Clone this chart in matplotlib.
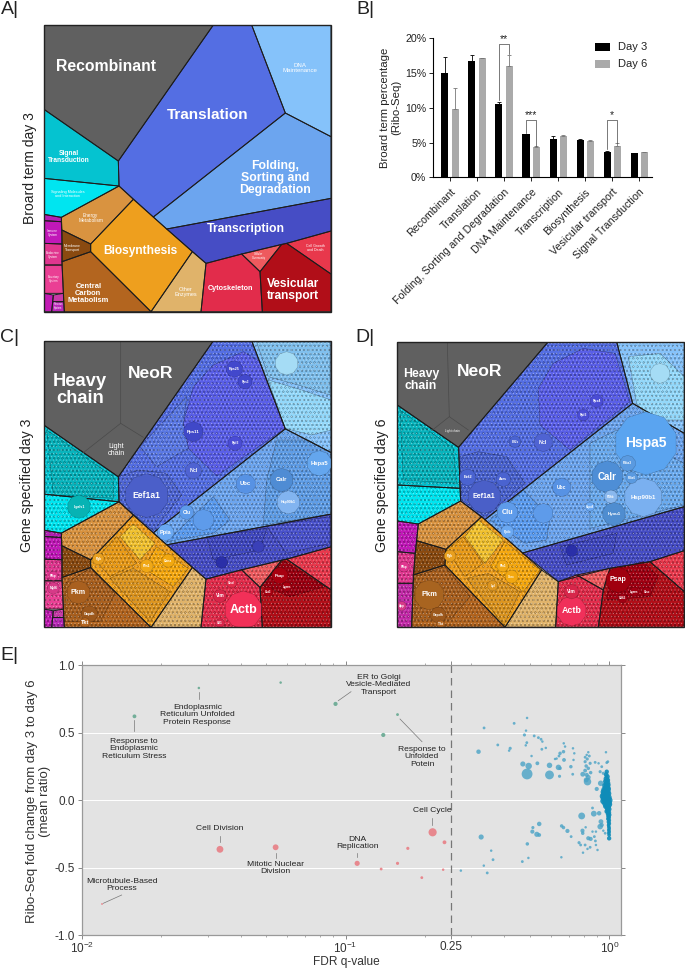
import matplotlib
matplotlib.use('Agg')
import matplotlib.pyplot as plt
from matplotlib.patches import Polygon, RegularPolygon

plt.rcParams['font.family'] = ['Liberation Sans', 'DejaVu Sans']
plt.rcParams['mathtext.default'] = 'regular'
plt.rcParams['hatch.linewidth'] = 0.25

W, H = 685, 969

# B: broad term percentages
terms = ['Recombinant', 'Translation', 'Folding, Sorting and Degradation', 'DNA Maintenance',
         'Transcription', 'Biosynthesis', 'Vesicular transport', 'Signal Transduction']
day3 = [15.0, 16.7, 10.5, 6.2, 5.5, 5.3, 3.7, 3.5]
day3_err = [2.3, 0.9, 0.4, 0.1, 0.4, 0.15, 0.1, 0.05]
day6 = [9.8, 17.1, 16.0, 4.3, 6.0, 5.25, 4.5, 3.6]
day6_err = [3.1, 0.1, 1.6, 0.15, 0.1, 0.05, 0.4, 0.05]

# proteomap term regions, day 3 layout (A and C)
regions_day3 = {
    'Recombinant': ([(132, 75), (640, 75), (355, 483), (132, 328)], '#606060'),
    'Translation': ([(640, 75), (755, 75), (856, 339), (460, 651), (357, 558), (355, 483)], '#546ee3'),
    'DNA Maintenance': ([(755, 75), (993, 75), (993, 410), (856, 339)], '#85c2fa'),
    'Folding': ([(856, 339), (993, 410), (993, 595), (500, 687), (460, 651)], '#6ca5ef'),
    'Transcription': ([(500, 687), (993, 595), (993, 693), (860, 730), (725, 762), (618, 790)], '#464dc5'),
    'Cell Growth': ([(860, 730), (993, 693), (993, 822)], '#e8384c'),
    'Cellular Community': ([(725, 762), (845, 733), (780, 815)], '#ee5a5e'),
    'Vesicular': ([(845, 733), (860, 730), (993, 822), (993, 935), (787, 935), (780, 815)], '#b10e18'),
    'Cytoskeleton': ([(618, 790), (725, 762), (780, 815), (787, 935), (603, 935)], '#e22c4b'),
    'Other Enzymes': ([(577, 755), (618, 790), (603, 935), (453, 935)], '#e0b36a'),
    'Biosynthesis': ([(400, 598), (577, 755), (453, 935), (272, 755), (272, 732)], '#ee9f1e'),
    'Energy': ([(357, 558), (400, 598), (272, 732), (186, 690), (184, 652)], '#d99340'),
    'Membrane': ([(186, 690), (272, 732), (272, 755), (186, 785)], '#8a4a10'),
    'Central Carbon': ([(186, 785), (272, 755), (453, 935), (193, 935)], '#b3651f'),
    'Signal': ([(132, 328), (355, 483), (357, 558), (132, 535)], '#05c3d0'),
    'Signaling': ([(132, 535), (357, 558), (184, 652), (132, 643)], '#00e5f0'),
    'Purple1': ([(132, 643), (184, 652), (184, 665), (132, 662)], '#b31fb5'),
    'Immune': ([(132, 662), (184, 665), (186, 732), (132, 730)], '#c118b8'),
    'Endocrine': ([(132, 730), (186, 732), (186, 795), (132, 795)], '#e0368f'),
    'Excretory': ([(132, 795), (186, 795), (190, 880), (132, 880)], '#ea3f94'),
    'Purple2': ([(132, 880), (160, 885), (155, 935), (132, 935)], '#c21bb4'),
    'Purple3': ([(160, 885), (190, 880), (191, 905), (158, 905)], '#c93aa8'),
    'Purple4': ([(158, 905), (191, 905), (193, 935), (155, 935)], '#b928b8'),
}

labels_a = [
    ('Recombinant', 318, 198, 11.3, 'bold'), ('Translation', 622, 345, 11, 'bold'),
    ('DNA\nMaintenance', 900, 204, 4.4, 'normal'), ('Folding,\nSorting and\nDegradation', 825, 534, 8.8, 'bold'),
    ('Transcription', 738, 687, 8.8, 'bold'), ('Biosynthesis', 420, 753, 8.6, 'bold'),
    ('Vesicular\ntransport', 880, 870, 8.6, 'bold'), ('Cytoskeleton', 693, 865, 5.2, 'bold'),
    ('Central\nCarbon\nMetabolism', 265, 880, 5.4, 'bold'), ('Other\nEnzymes', 556, 877, 4, 'normal'),
    ('Signal\nTransduction', 207, 472, 4.8, 'bold'), ('Signaling Molecules\nand Interaction', 203, 582, 2.7, 'normal'),
    ('Energy\nMetabolism', 272, 655, 3.4, 'normal'), ('Membrane\nTransport', 218, 744, 2.5, 'normal'),
    ('Cell Growth\nand Death', 945, 745, 2.6, 'normal'), ('Cellular\nCommunity', 776, 768, 2, 'normal'),
    ('Immune\nSystem', 158, 700, 2.2, 'normal'), ('Endocrine\nSystem', 159, 764, 2.2, 'normal'),
    ('Excretory\nSystem', 160, 838, 2, 'normal'), ('Nervous\nSystem', 174, 918, 1.8, 'normal'),
]

# inner gene families, C
families_c = [
    ([(730, 95), (780, 125), (855, 325), (650, 468), (565, 385), (550, 310), (580, 200), (640, 135)], '#5a5fe8'),
    ([(420, 380), (560, 230), (550, 310), (565, 385), (470, 440)], '#5a78e4'),
    ([(357, 470), (415, 450), (500, 460), (545, 525), (460, 632), (357, 545)], '#4f66d4'),
    ([(805, 180), (905, 210), (993, 240), (993, 330), (935, 345), (855, 325)], '#93d8fa'),
    ([(770, 66), (990, 66), (990, 225), (905, 198), (805, 170)], '#80c0ee'),
    ([(830, 360), (925, 360), (993, 398), (993, 582), (790, 615), (800, 480)], '#5f9de6'),
    ([(500, 665), (640, 530), (690, 600), (640, 640)], '#5b9cf0'),
    ([(620, 650), (800, 625), (780, 690), (640, 720)], '#4048c0'),
    ([(800, 620), (990, 590), (990, 670), (860, 700)], '#4a52cc'),
    ([(785, 795), (850, 722), (975, 800), (870, 830)], '#9a0010'),
    ([(400, 612), (465, 670), (420, 720), (360, 650)], '#f2c230'),
    ([(470, 680), (565, 745), (520, 800), (430, 745)], '#f5a810'),
    ([(285, 720), (350, 650), (410, 730), (330, 770)], '#e89a18'),
    ([(330, 775), (400, 745), (510, 815), (450, 905)], '#dc9520'),
    ([(195, 790), (272, 745), (345, 820), (300, 905), (195, 905)], '#a9601f'),
    ([(140, 330), (340, 470), (340, 535), (160, 525)], '#08b4bd'),
]

cells_c = [
    ('Actb', 730, 870, 57, '#f23058', 9), ('Eef1a1', 440, 527, 66, '#4b5fc9', 6.2), ('Ubc', 737, 492, 30, '#5792e4', 4.2),
    ('Calr', 845, 480, 35, '#4f8cd4', 4.2), ('Hspa5', 958, 430, 38, '#64a6ee', 4.2), ('Hsp90b1', 865, 547, 35, '#82b4f0', 2.6),
    ('Clu', 560, 577, 22, '#5e9bea', 3.6), ('Ppia', 497, 637, 25, '#6aa8f2', 4), ('Lgals1', 237, 560, 35, '#07b3b4', 2.6),
    ('Rps11', 580, 335, 30, '#4048c8', 3.2), ('Ncl', 580, 452, 25, '#4f63d2', 3.8), ('Pkm', 235, 817, 35, '#a9601f', 5),
    ('Gapdh', 268, 882, 25, '#9c581c', 2.6), ('Tkt', 255, 908, 15, '#b3651f', 4), ('Vim', 660, 828, 20, '#d7264a', 3.4),
    ('Psap', 840, 767, 25, '#a80010', 3), ('Myl6', 160, 805, 18, '#d63a88', 2.6), ('Rps25', 703, 147, 25, '#4248cc', 2.6),
    ('Rpl3', 705, 370, 22, '#4a4cd4', 2.4), ('Rps3', 735, 185, 22, '#4248cc', 2.2), ('Pfn1', 440, 738, 20, '#f0a816', 2.4),
    ('Ctsd', 695, 788, 16, '#e22c4b', 2.2), ('Pfkp', 160, 768, 14, '#e0368f', 2.2), ('Pgk', 295, 717, 18, '#e8a020', 2.4),
    ('Canx', 505, 722, 20, '#f2a810', 2.4), ('Lgmn', 860, 800, 14, '#a80010', 2.2), ('Cst3', 805, 815, 14, '#a80010', 2.2),
    ('Cfl1', 660, 910, 14, '#d7264a', 2.2), ('', 860, 130, 35, '#a5dcf5', 2), ('', 610, 600, 32, '#5e9bea', 2),
    ('', 665, 727, 18, '#2a2fa8', 2), ('', 775, 680, 18, '#3a40b8', 2),
]

# day 6 layout (D)
regions_day6 = {
    'Recombinant': ([(142, 65), (595, 65), (325, 382), (142, 255)], '#606060'),
    'Translation': ([(595, 65), (800, 65), (848, 250), (405, 599), (332, 543), (326, 382)], '#546ee3'),
    'DNA Maintenance': ([(800, 65), (1003, 65), (1003, 340), (848, 250)], '#85c2fa'),
    'Folding': ([(848, 250), (1003, 340), (1003, 560), (518, 699), (405, 599)], '#6ca5ef'),
    'Transcription': ([(518, 699), (1003, 560), (1003, 692), (900, 725), (780, 745), (625, 785)], '#464dc5'),
    'Cell Growth': ([(900, 725), (1003, 692), (1003, 815)], '#e8384c'),
    'Cellular Community': ([(680, 765), (780, 745), (760, 810)], '#ee5a5e'),
    'Vesicular': ([(780, 745), (900, 725), (1003, 815), (1003, 922), (745, 922), (760, 810)], '#b10e18'),
    'Cytoskeleton': ([(625, 785), (680, 765), (760, 810), (745, 922), (617, 922)], '#e22c4b'),
    'Other Enzymes': ([(575, 750), (625, 785), (617, 922), (465, 922)], '#e0b36a'),
    'Biosynthesis': ([(395, 590), (575, 750), (465, 922), (285, 735), (288, 688)], '#ee9f1e'),
    'Energy': ([(332, 543), (395, 590), (288, 688), (200, 662), (205, 612)], '#d99340'),
    'Membrane': ([(200, 662), (288, 688), (285, 735), (190, 765)], '#8a4a10'),
    'Central Carbon': ([(190, 765), (285, 735), (465, 922), (185, 922)], '#b3651f'),
    'Signal': ([(142, 255), (326, 382), (330, 505), (142, 495)], '#05c3d0'),
    'Signaling': ([(142, 495), (330, 505), (332, 543), (205, 612), (142, 603)], '#00e5f0'),
    'Immune': ([(142, 603), (205, 612), (200, 662), (195, 700), (142, 695)], '#c118b8'),
    'Endocrine': ([(142, 695), (195, 700), (190, 790), (142, 790)], '#e0368f'),
    'Purple': ([(142, 790), (190, 790), (185, 922), (142, 922)], '#c32aa8'),
}

families_d = [
    ([(700, 85), (795, 100), (840, 245), (660, 390), (570, 315), (565, 205), (610, 130)], '#5a5fe8'),
    ([(330, 410), (385, 395), (470, 410), (525, 490), (405, 590), (335, 540)], '#4a63d0'),
    ([(835, 110), (930, 100), (1003, 170), (1003, 300), (900, 300), (860, 250)], '#93d8fa'),
    ([(720, 370), (800, 330), (1003, 430), (1003, 555), (720, 625)], '#6aaaee'),
    ([(420, 600), (520, 510), (600, 590), (590, 660), (525, 670)], '#5b9cf0'),
    ([(630, 680), (800, 640), (790, 700), (650, 735)], '#4048c0'),
    ([(785, 750), (880, 725), (925, 770), (900, 830), (770, 840)], '#a00012'),
    ([(385, 600), (460, 660), (405, 730), (345, 650)], '#f2c230'),
    ([(465, 665), (570, 750), (520, 815), (420, 740)], '#f5a810'),
    ([(290, 690), (340, 650), (400, 730), (345, 770)], '#e89a18'),
    ([(350, 775), (415, 760), (510, 815), (462, 915)], '#dc9520'),
    ([(195, 770), (285, 740), (360, 830), (300, 900), (195, 900)], '#a9601f'),
    ([(150, 270), (310, 385), (320, 490), (160, 480)], '#08b4bd'),
]

cells_d = [
    ('Hspa5', 888, 370, 95, '#5aa4f0', 10), ('Calr', 772, 470, 48, '#4e8ed6', 7), ('Hsp90b1', 880, 532, 58, '#7ab0f0', 4.4),
    ('Hyou1', 792, 582, 35, '#4f8dd0', 3.2), ('Ubc', 635, 502, 28, '#5792e4', 3.6), ('Clu', 472, 577, 32, '#5e9bea', 5.2),
    ('Ncl', 580, 367, 28, '#4f63d2', 3.8), ('Eef1a1', 403, 530, 50, '#4a5fc8', 5), ('Eef2', 353, 472, 25, '#4a63d0', 3),
    ('Aars', 460, 478, 22, '#4a63d0', 2.6), ('Pkm', 238, 825, 45, '#a86420', 5.4), ('Actb', 665, 873, 45, '#f0305a', 6.4),
    ('Psap', 805, 780, 38, '#a0000f', 5), ('Vim', 665, 815, 22, '#d7264a', 3.4), ('Pdia3', 833, 430, 24, '#5a9ae0', 2.4),
    ('P4hb', 783, 530, 20, '#8ab8ee', 2.2), ('Gapdh', 265, 885, 24, '#9c581c', 2.4), ('Ppib', 472, 635, 20, '#6aa8f2', 2.4),
    ('Pdia6', 845, 473, 18, '#5a9ae0', 2.2), ('Pgk', 300, 708, 18, '#e8a020', 2.4), ('Rps4', 740, 243, 20, '#4a4cd4', 2.4),
    ('Rpl3', 700, 285, 18, '#4a4cd4', 2.4), ('Eif2s', 495, 365, 18, '#4a63d0', 2.2), ('Lgmn', 853, 815, 14, '#a00012', 2.2),
    ('Ctsc', 890, 815, 14, '#a00012', 2.2), ('Cd63', 818, 835, 14, '#a00012', 2.2), ('Hspa8', 720, 560, 14, '#6aa8f2', 2),
    ('Pfkp', 162, 740, 16, '#e0368f', 2.2), ('App', 155, 858, 14, '#d63a88', 2.2), ('Pfn1', 458, 738, 18, '#f0a816', 2.2),
    ('Canx', 485, 770, 20, '#f2a810', 2), ('Lpl', 428, 797, 16, '#dc9520', 2.2), ('Tkt', 272, 912, 12, '#b3651f', 2.4),
    ('', 930, 160, 30, '#a5dcf5', 2), ('', 580, 580, 30, '#5e9bea', 2), ('', 665, 692, 18, '#2a2fa8', 2),
]

# E: gene sets, (log10 FDR q, mean ratio, set size)
red_sets = [(-0.670, -0.237, 22), (-0.625, -0.311, 9), (-0.764, -0.356, 7), (-0.803, -0.467, 7), (-0.865, -0.509, 6),
            (-0.956, -0.467, 13), (-0.711, -0.573, 6), (-0.630, -0.514, 5), (-1.476, -0.363, 18), (-1.265, -0.348, 15),
            (-1.923, -0.768, 3)]
green_sets = [(-0.803, 0.635, 6), (-0.857, 0.484, 10), (-1.038, 0.714, 10), (-1.246, 0.872, 5), (-1.556, 0.832, 5),
              (-1.800, 0.622, 9)]
blue_sets = [(-0.475, 0.536, 6), (-0.361, 0.570, 6), (-0.312, 0.610, 5), (-0.316, 0.516, 5), (-0.322, 0.484, 7),
             (-0.285, 0.477, 6), (-0.269, 0.464, 6), (-0.259, 0.452, 6), (-0.254, 0.435, 5), (-0.313, 0.427, 6),
             (-0.317, 0.407, 5), (-0.423, 0.410, 6), (-0.376, 0.385, 7), (-0.380, 0.368, 5), (-0.496, 0.360, 11),
             (-0.256, 0.378, 6), (-0.241, 0.388, 5), (-0.173, 0.422, 5), (-0.168, 0.398, 5), (-0.174, 0.360, 8),
             (-0.187, 0.348, 8), (-0.191, 0.328, 6), (-0.138, 0.385, 5), (-0.133, 0.348, 5), (-0.295, 0.328, 5),
             (-0.206, 0.306, 5), (-0.200, 0.309, 5), (-0.172, 0.299, 9), (-0.136, 0.299, 5), (-0.328, 0.269, 13),
             (-0.306, 0.254, 17), (-0.273, 0.274, 9), (-0.312, 0.195, 30), (-0.227, 0.259, 14), (-0.227, 0.188, 24),
             (-0.193, 0.244, 14), (-0.187, 0.237, 8), (-0.146, 0.249, 8), (-0.189, 0.178, 7), (-0.139, 0.193, 6),
             (-0.101, 0.193, 12),
             (-0.080, 0.356, 5), (-0.086, 0.336, 5), (-0.092, 0.319, 6), (-0.076, 0.328, 6), (-0.084, 0.306, 7),
             (-0.092, 0.286, 7), (-0.073, 0.274, 7), (-0.088, 0.254, 8), (-0.080, 0.237, 8), (-0.092, 0.220, 9),
             (-0.071, 0.205, 8), (-0.086, 0.188, 10), (-0.080, 0.170, 12), (-0.088, 0.151, 12), (-0.083, 0.138, 20),
             (-0.054, 0.281, 6), (-0.041, 0.274, 5), (-0.029, 0.249, 6), (-0.010, 0.279, 6), (-0.006, 0.286, 6),
             (-0.013, 0.356, 5), (-0.035, 0.212, 7), (-0.023, 0.200, 7), (-0.033, 0.126, 14), (-0.048, 0.084, 10),
             (-0.105, -0.116, 18), (-0.059, -0.099, 15), (-0.039, -0.096, 11), (-0.064, -0.057, 6), (-0.032, -0.158, 12),
             (-0.029, -0.183, 10), (-0.035, -0.195, 14), (-0.016, -0.244, 6), (-0.023, -0.225, 5), (-0.266, -0.175, 11),
             (-0.290, -0.202, 7), (-0.292, -0.232, 10), (-0.275, -0.252, 13), (-0.266, -0.257, 9), (-0.486, -0.272, 13),
             (-0.311, -0.323, 8), (-0.181, -0.190, 8), (-0.174, -0.202, 8), (-0.159, -0.227, 10), (-0.145, -0.269, 6),
             (-0.090, -0.200, 5), (-0.102, -0.225, 10), (-0.101, -0.244, 8), (-0.064, -0.232, 5), (-0.051, -0.232, 5),
             (-0.057, -0.269, 6), (-0.080, -0.281, 10), (-0.071, -0.286, 10), (-0.053, -0.301, 6), (-0.115, -0.314, 7),
             (-0.109, -0.331, 6), (-0.092, -0.331, 6), (-0.073, -0.348, 6), (-0.083, -0.360, 5), (-0.100, -0.388, 5),
             (-0.051, -0.331, 5), (-0.045, -0.368, 5), (-0.448, -0.373, 5), (-0.441, -0.440, 6), (-0.476, -0.484, 5),
             (-0.463, -0.538, 6), (-0.563, -0.521, 5), (-0.330, -0.454, 6), (-0.307, -0.427, 5), (-0.182, -0.422, 5)]
blob_sets = [(-0.010, 0.212, 7), (-0.012, 0.190, 8), (-0.008, 0.175, 9), (-0.012, 0.160, 10), (-0.006, 0.150, 8),
             (-0.014, 0.140, 10), (-0.008, 0.130, 12), (-0.012, 0.120, 10), (-0.004, 0.115, 8), (-0.016, 0.108, 12),
             (-0.008, 0.100, 12), (-0.012, 0.090, 14), (-0.004, 0.085, 10), (-0.018, 0.078, 14), (-0.008, 0.070, 14),
             (-0.022, 0.062, 12), (-0.012, 0.055, 14), (-0.004, 0.050, 12), (-0.020, 0.045, 14), (-0.010, 0.038, 14),
             (-0.024, 0.030, 14), (-0.014, 0.025, 14), (-0.004, 0.022, 14), (-0.020, 0.015, 14), (-0.008, 0.010, 14),
             (-0.016, 0.002, 14), (-0.002, 0.000, 16), (-0.022, -0.005, 14), (-0.010, -0.012, 14), (-0.004, -0.018, 14),
             (-0.016, -0.024, 12), (-0.002, -0.030, 14), (-0.010, -0.036, 12), (-0.014, -0.044, 10), (-0.004, -0.050, 10),
             (-0.008, -0.058, 10), (-0.002, -0.066, 10), (-0.006, -0.074, 9), (-0.010, -0.082, 8), (-0.002, -0.090, 8),
             (-0.005, -0.100, 8), (-0.001, -0.108, 8), (-0.004, -0.118, 7), (-0.002, -0.128, 7), (-0.005, -0.138, 6),
             (-0.001, -0.148, 6), (-0.003, -0.160, 6), (-0.001, -0.172, 6), (-0.003, -0.184, 5), (-0.002, -0.196, 5),
             (-0.001, -0.208, 5), (-0.002, -0.220, 5), (-0.001, -0.232, 5), (-0.002, -0.244, 5), (-0.001, -0.258, 5),
             (-0.001, -0.282, 7)]

annotations_e = [
    ('Response to\nEndoplasmic\nReticulum Stress', 134, 749, (134.3, 720), (134.3, 730.7)),
    ('Endoplasmic\nReticulum Unfolded\nProtein Response', 197.3, 715, (198.7, 691.7), (198.7, 699.3)),
    ('Cell Division', 220, 829, (219.7, 835.7), (219.7, 841.7)),
    ('Mitotic Nuclear\nDivision', 275.3, 868, (276.3, 852.7), (276.3, 858.3)),
    ('Microtubule-Based\nProcess', 122, 885, (103.3, 903.3), (121.7, 895)),
    ('ER to Golgi\nVesicle-Mediated\nTransport', 379, 685, (338.3, 700.7), (351, 691.7)),
    ('Response to\nUnfolded\nPotein', 422, 757, (400, 719), (422, 741.7)),
    ('Cell Cycle', 432.3, 810.3, (432.3, 818.3), (432.3, 825)),
    ('DNA\nReplication', 357.3, 843, (357.3, 853.3), (357.3, 857.3)),
]


def px_axes(left, top, right, bottom):
    return fig.add_axes([left / W, 1 - bottom / H, (right - left) / W, (bottom - top) / H])


def draw_map(ax, regions, xlim, ylim, textured, families=(), cells=(), dy=0):
    ax.set_xlim(*xlim)
    ax.set_ylim(*ylim)
    ax.axis('off')
    for name, (verts, colour) in regions.items():
        verts = [(x, y - dy) for x, y in verts]
        ax.add_patch(Polygon(verts, closed=True, fc=colour, ec='none', zorder=1))
        if textured and name != 'Recombinant':
            ax.add_patch(Polygon(verts, closed=True, fc='none', ec=(0, 0, 0, 0.3), lw=0, hatch='oooo', zorder=3))
            ax.add_patch(Polygon(verts, closed=True, fc='none', ec=(1, 1, 1, 0.45), lw=0, hatch='.....', zorder=3))
    for verts, colour in families:
        ax.add_patch(Polygon(verts, closed=True, fc=colour, ec=(0, 0, 0, 0.45), lw=0.35, zorder=2))
    for verts, colour in regions.values():
        verts = [(x, y - dy) for x, y in verts]
        ax.add_patch(Polygon(verts, closed=True, fc='none', ec='#1c1c1c', lw=0.7, zorder=4, joinstyle='round'))
    for gene, x, y, r, colour, size in cells:
        ax.add_patch(RegularPolygon((x, y), 10, radius=r, fc=colour, ec=(0, 0, 0, 0.3), lw=0.3, zorder=5))
        if gene:
            ax.text(x, y, gene, color='white', fontsize=size, fontweight='bold', ha='center', va='center', zorder=6)
    ax.add_patch(Polygon([(xlim[0], ylim[1]), (xlim[1], ylim[1]), (xlim[1], ylim[0]), (xlim[0], ylim[0])],
                         closed=True, fc='none', ec='#222222', lw=1.0, zorder=7, clip_on=False))


fig = plt.figure(figsize=(W / 100, H / 100), dpi=100)

# panel A
ax_a = px_axes(44, 25, 331, 311.7)
draw_map(ax_a, regions_day3, (132, 993), (935, 75), False)
for text, x, y, size, weight in labels_a:
    ax_a.text(x, y, text, color='white', fontsize=size, fontweight=weight, ha='center', va='center',
              linespacing=1.0, zorder=6)

# panel B
ax_b = px_axes(433.3, 38.3, 651.7, 177.3)
pos = range(len(terms))
ax_b.bar([i - 0.19 for i in pos], day3, 0.26, color='black',
         yerr=[[0] * 8, day3_err], error_kw=dict(ecolor='black', elinewidth=0.6, capsize=1.4, capthick=0.6))
ax_b.bar([i + 0.19 for i in pos], day6, 0.26, color='#aaaaaa',
         yerr=[[0] * 8, day6_err], error_kw=dict(ecolor='#777777', elinewidth=0.6, capsize=1.4, capthick=0.6))
ax_b.set_xlim(-0.62, 7.46)
ax_b.set_ylim(0, 20)
ax_b.set_yticks([0, 5, 10, 15, 20], ['0%', '5%', '10%', '15%', '20%'])
ax_b.set_xticks(list(pos))
ax_b.set_xticklabels(terms, rotation=45, ha='right', va='top', rotation_mode='anchor')
ax_b.tick_params(labelsize=7.7, length=3, width=0.7, pad=2, colors='#222222')
ax_b.tick_params(axis='x', pad=4)
ax_b.spines[['top', 'right']].set_visible(False)
ax_b.spines[['left', 'bottom']].set_linewidth(0.8)
ax_b.set_ylabel('Broard term percentage\n(Ribo-Seq)', fontsize=8.2, color='#222222', labelpad=3, linespacing=1.15)
for i, top, left_end, right_end, stars in [(2, 19.2, 11.1, 17.7, '**'), (3, 8.2, 6.4, 4.55, '***'), (6, 8.2, 4.0, 5.0, '*')]:
    ax_b.plot([i - 0.19, i - 0.19, i + 0.19, i + 0.19], [left_end, top, top, right_end], color='#444444', lw=0.5)
    ax_b.text(i, top + 0.02, stars, fontsize=7.5, ha='center', va='bottom', color='#222222', clip_on=False)

# panel C, same term layout as A
ax_c = px_axes(44, 341, 331, 627.3)
draw_map(ax_c, regions_day3, (132, 993), (922, 63), True, families_c, cells_c, dy=12.5)
ax_c.plot([362, 362, 430], [63, 310, 352], color='#4a4a4a', lw=0.5, zorder=5)
ax_c.plot([362, 250], [310, 398], color='#4a4a4a', lw=0.5, zorder=5)
for text, x, y, size, weight in [('Heavy\nchain', 240, 210, 13.2, 'bold'), ('NeoR', 452, 162, 12.6, 'bold'),
                                 ('Light\nchain', 348, 390, 5.2, 'normal')]:
    ax_c.text(x, y, text, color='white', fontsize=size, fontweight=weight, ha='center', va='center',
              linespacing=1.0, zorder=6)

# panel D
ax_d = px_axes(397.3, 341.7, 684.3, 627.3)
draw_map(ax_d, regions_day6, (142, 1003), (922, 65), True, families_d, cells_d)
ax_d.plot([292, 298, 355], [65, 290, 330], color='#4a4a4a', lw=0.5, zorder=5)
ax_d.plot([298, 245], [290, 332], color='#4a4a4a', lw=0.5, zorder=5)
for text, x, y, size, weight in [('Heavy\nchain', 213, 180, 8.8, 'bold'), ('NeoR', 388, 155, 12.6, 'bold'),
                                 ('Light chain', 308, 333, 2.2, 'normal')]:
    ax_d.text(x, y, text, color='white', fontsize=size, fontweight=weight, ha='center', va='center',
              linespacing=1.0, zorder=6)

# panel E
ax_e = px_axes(81.7, 665.3, 621, 935.3)
ax_e.set_facecolor('#e3e3e3')
ax_e.set_xscale('log')
ax_e.set_xlim(0.01, 10 ** 0.044)
ax_e.set_ylim(-1, 1)
for y in [-0.5, 0, 0.5]:
    ax_e.axhline(y, color='white', lw=0.7, zorder=1)
ax_e.axvline(0.25, color='#777777', lw=0.9, ls=(0, (6, 4)), zorder=2)
for sets, colour, alpha, grow in [(blue_sets, '#4aa3c6', 0.8, 2.5), (blob_sets, '#0f8cb8', 0.9, 6),
                                  (red_sets, '#e8787f', 0.85, 2.5), (green_sets, '#5fa58c', 0.85, 2.5)]:
    ax_e.scatter([10 ** s[0] for s in sets], [s[1] for s in sets], s=[((s[2] + grow) * 0.24) ** 2 for s in sets],
                 color=colour, alpha=alpha, lw=0, zorder=3)
ax_e.set_xticks([0.01, 0.1, 0.25, 1], ['$10^{-2}$', '$10^{-1}$', '0.25', '$10^{0}$'])
ax_e.set_yticks([-1, -0.5, 0, 0.5, 1], ['-1.0', '-0.5', '0.0', '0.5', '1.0'])
ax_e.tick_params(labelsize=8.5, length=3, width=0.7, color='#888888', labelcolor='#333333', pad=2, top=True, right=True)
ax_e.tick_params(axis='x', pad=1)
ax_e.tick_params(which='minor', length=1.5, width=0.5, color='#888888', top=True)
ax_e.xaxis.set_minor_formatter(plt.NullFormatter())
for s in ax_e.spines.values():
    s.set_color('#999999')
    s.set_linewidth(0.9)

# text that sits on pixel positions, over everything
ov = fig.add_axes([0, 0, 1, 1], facecolor='none')
ov.set_xlim(0, W)
ov.set_ylim(H, 0)
ov.axis('off')
for lab, x, y in [('A|', 1, 9), ('B|', 356, 9), ('C|', 0, 337), ('D|', 355, 337), ('E|', 0, 655)]:
    ov.text(x, y, lab, fontsize=14, ha='left', va='center', color='#222222')
ov.text(30, 168, 'Broard term day 3', rotation=90, fontsize=10, ha='center', va='center', color='#222222')
ov.text(27.5, 485, 'Gene specified day 3', rotation=90, fontsize=10.2, ha='center', va='center', color='#222222')
ov.text(382, 485, 'Gene specified day 6', rotation=90, fontsize=10.2, ha='center', va='center', color='#222222')
ov.text(38.5, 801, 'Ribo-Seq fold change from day 3 to day 6\n(mean ratio)', rotation=90, fontsize=9.5,
        ha='center', va='center', color='#333333', linespacing=1.1)
ov.text(346, 962.5, 'FDR q-value', fontsize=8.6, ha='center', va='center', color='#333333')
for text, x, y, start, end in annotations_e:
    ov.text(x, y, text, fontsize=6.1, ha='center', va='center', color='#222222', linespacing=1.15)
    ov.plot([start[0], end[0]], [start[1], end[1]], color='#777777', lw=0.5)
# legend of B
for y, colour, lab in [(47, 'black', 'Day 3'), (64, '#aaaaaa', 'Day 6')]:
    ov.add_patch(plt.Rectangle((595, y - 4), 15, 8, fc=colour, ec='none'))
    ov.text(618, y, lab, fontsize=8, ha='left', va='center', color='#222222')

fig.savefig('out.png', dpi=100)
